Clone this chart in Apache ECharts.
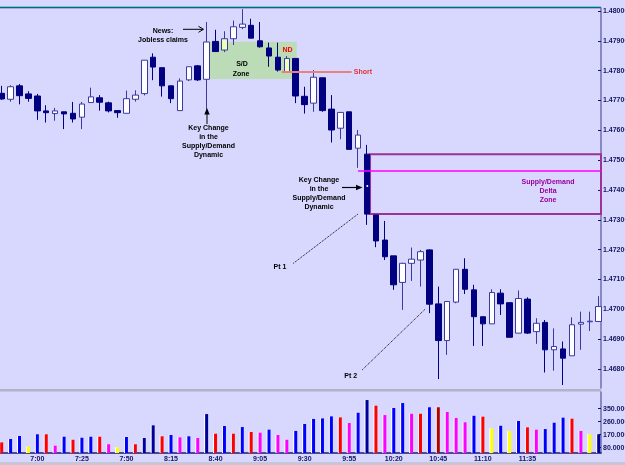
<!DOCTYPE html>
<html>
<head>
<meta charset="UTF-8">
<title>5 min chart - supply/demand</title>
<script src="https://cdn.jsdelivr.net/npm/echarts@6/dist/echarts.min.js"></script>
<style>
html,body{margin:0;padding:0;background:#d8d8ff;}
#main{width:625px;height:465px;}
</style>
</head>
<body>
<div id="main"></div>
<script>
// bar index (0 = 6:40) where a time label sits
var tickBars = [4, 9, 14, 19, 24, 29, 34, 39, 44, 49, 54, 59];
var tickLabels = ['7:00','7:25','7:50','8:15','8:40','9:05','9:30','9:55','10:20','10:45','11:10','11:35'];
var priceTicks = [1.468,1.469,1.470,1.471,1.472,1.473,1.474,1.475,1.476,1.477,1.478,1.479,1.480];
var volTicks = [80, 170, 260, 350];

var open = [1.47724,1.47704,1.47749,1.47722,1.47715,1.47665,1.47656,1.47662,1.47657,1.47644,
  1.47693,1.47709,1.47692,1.47666,1.47657,1.47704,1.47723,1.47845,1.47810,1.47749,
  1.47666,1.47769,1.47816,1.47771,1.47898,1.47869,1.47907,1.47945,1.47952,1.47900,
  1.47876,1.47845,1.47797,1.47841,1.47714,1.47691,1.47776,1.47671,1.47607,1.47662,
  1.47540,1.47520,1.47316,1.47232,1.47179,1.47090,1.47154,1.47165,1.47199,1.47018,
  1.46895,1.47024,1.47134,1.47065,1.46975,1.46951,1.47054,1.47022,1.46920,1.47034,
  1.46925,1.46956,1.46864,1.46867,1.46844,1.46950,1.46958,1.46959];
var close = [1.47705,1.47746,1.47716,1.47707,1.47665,1.47659,1.47665,1.47655,1.47638,1.47688,
  1.47712,1.47694,1.47665,1.47659,1.47706,1.47718,1.47835,1.47812,1.47749,1.47706,
  1.47765,1.47813,1.47769,1.47896,1.47864,1.47907,1.47947,1.47956,1.47909,1.47880,
  1.47849,1.47802,1.47841,1.47715,1.47686,1.47778,1.47666,1.47601,1.47660,1.47536,
  1.47584,1.47319,1.47229,1.47176,1.47082,1.47154,1.47168,1.47193,1.47017,1.46895,
  1.47026,1.47134,1.47067,1.46975,1.46951,1.47056,1.47018,1.46906,1.47036,1.46920,
  1.46953,1.46864,1.46875,1.46836,1.46948,1.46956,1.46960,1.47009];
var low = [1.47702,1.47696,1.47687,1.47696,1.47635,1.47626,1.47632,1.47604,1.47626,1.47604,
  1.47693,1.47666,1.47660,1.47642,1.47657,1.47696,1.47717,1.47768,1.47713,1.47691,
  1.47666,1.47765,1.47765,1.47668,1.47864,1.47862,1.47886,1.47939,1.47909,1.47877,
  1.47813,1.47797,1.47797,1.47691,1.47656,1.47662,1.47662,1.47559,1.47570,1.47536,
  1.47474,1.47283,1.47208,1.47165,1.47065,1.46998,1.47095,1.47076,1.46987,1.46766,
  1.46847,1.47020,1.47051,1.46877,1.46877,1.46951,1.46981,1.46906,1.46920,1.46917,
  1.46884,1.46788,1.46794,1.46746,1.46844,1.46864,1.46927,1.46959];
var high = [1.47749,1.47751,1.47755,1.47731,1.47722,1.47684,1.47675,1.47662,1.47695,1.47695,
  1.47743,1.47718,1.47696,1.47666,1.47733,1.47734,1.47835,1.47858,1.47810,1.47749,
  1.47774,1.47813,1.47819,1.47963,1.47937,1.47932,1.47968,1.48006,1.47974,1.47963,
  1.47894,1.47894,1.47849,1.47841,1.47746,1.47802,1.47776,1.47718,1.47660,1.47662,
  1.47601,1.47551,1.47316,1.47296,1.47179,1.47156,1.47207,1.47199,1.47201,1.47076,
  1.47028,1.47134,1.47171,1.47082,1.46975,1.47067,1.47067,1.47022,1.47063,1.47040,
  1.46970,1.46964,1.46936,1.46892,1.46973,1.46992,1.46992,1.47044];
var volume = [117,140,161,87,173,173,94,156,135,149,
  156,156,104,83,154,104,147,235,159,168,
  152,159,147,313,177,230,177,223,189,184,
  205,168,135,196,244,279,283,297,290,251,
  322,410,371,306,355,389,315,315,360,360,
  327,286,256,301,295,214,232,196,265,221,
  205,209,253,288,281,196,173,173];
var volColor = ['R','B','B','Y','B','R','M','B','R','B',
  'B','R','M','Y','B','R','N','N','R','B',
  'M','B','M','N','R','B','R','B','R','M',
  'B','M','M','B','B','B','B','B','R','M',
  'B','N','R','M','B','B','M','R','B','D',
  'M','M','M','B','R','Y','B','Y','B','R',
  'M','B','B','B','R','M','Y','N'];
var paleBars = [25, 32];   // the two pale candles inside the S/D zone

var palette = {B:'#0000ff', R:'#ff0000', M:'#ff00ff', Y:'#ffff00', N:'#000099', D:'#b00000'};
var xMin = -0.19, xMax = 67.26;
var font = '"Liberation Sans", Arial, sans-serif';

var candleData = open.map(function(o, i){
  var item = {value: [i, o, close[i], low[i], high[i]]};
  if (paleBars.indexOf(i) >= 0) item.itemStyle = {color: '#eeffbb', borderColor: '#3a3aa0'};
  return item;
});
var volData = volume.map(function(v, i){
  return {value: [i, v], itemStyle: {color: palette[volColor[i]]}};
});

function txt(x, y, s, color, size){
  return {type:'text', x:x, y:y, z:100, silent:true,
    style:{text:s, fill:color || '#000', font:'bold ' + (size || 7) + 'px ' + font,
      textAlign:'center', textVerticalAlign:'middle'}};
}

var myChart = echarts.init(document.getElementById('main'));
var option = {
  animation: false,
  backgroundColor: '#d8d8ff',
  grid: [
    {left:0, top:8, width:601, height:380, outerBoundsMode:'none', containLabel:false},
    {left:0, top:392, width:601, height:61, outerBoundsMode:'none', containLabel:false}
  ],
  xAxis: [
    {type:'value', gridIndex:0, min:xMin, max:xMax, axisLine:{show:false}, axisTick:{show:false},
      axisLabel:{show:false}, splitLine:{show:false}},
    {type:'value', gridIndex:1, min:xMin, max:xMax,
      axisLine:{show:true, onZero:false, lineStyle:{color:'#1c1c70', width:1.5}},
      axisTick:{show:false}, splitLine:{show:false},
      axisLabel:{show:true, customValues:tickBars, margin:3, color:'#14145e',
        fontSize:7, fontWeight:'bold', fontFamily:font,
        formatter:function(v){ return tickLabels[tickBars.indexOf(Math.round(v))] || ''; }}}
  ],
  yAxis: [
    {type:'value', gridIndex:0, position:'right', min:1.46736, max:1.48010, scale:true,
      axisLine:{show:true, onZero:false, lineStyle:{color:'#6e6eb4', width:1.5}},
      axisTick:{show:true, inside:true, length:3, customValues:priceTicks, lineStyle:{color:'#14145e'}},
      splitLine:{show:false},
      axisLabel:{show:true, customValues:priceTicks, margin:2, color:'#14145e', fontSize:7,
        fontWeight:'bold', fontFamily:font, formatter:function(v){ return v.toFixed(5); }}},
    {type:'value', gridIndex:1, position:'right', min:43.3, max:465.6,
      axisLine:{show:true, onZero:false, lineStyle:{color:'#6e6eb4', width:1.5}},
      axisTick:{show:true, inside:true, length:3, customValues:volTicks, lineStyle:{color:'#14145e'}},
      splitLine:{show:false},
      axisLabel:{show:true, customValues:volTicks, margin:2, color:'#14145e', fontSize:7,
        fontWeight:'bold', fontFamily:font, formatter:function(v){ return v.toFixed(3); }}}
  ],
  series: [
    {
      // S/D zone behind the candles
      type:'line', xAxisIndex:0, yAxisIndex:0, data:[], z:1, silent:true,
      markArea:{silent:true, label:{show:false},
        itemStyle:{color:'#bcdcb8'},
        data:[[{coord:[23.38, 1.47897]}, {coord:[33.11, 1.47772]}]]}
    },
    {
      type:'candlestick', xAxisIndex:0, yAxisIndex:0, z:3,
      dimensions:['idx','open','close','lowest','highest'],
      encode:{x:'idx', y:['open','close','lowest','highest']},
      barWidth:6,
      itemStyle:{color:'#ffffff', color0:'#000080', borderColor:'#3a3aa0', borderColor0:'#000080', borderWidth:1},
      data: candleData,
      markArea:{silent:true, label:{show:false},
        itemStyle:{color:'rgba(0,0,0,0)', borderColor:'#993399', borderWidth:2},
        data:[[{coord:[41.34, 1.47520]}, {coord:[xMax, 1.47319]}]]},
      markLine:{silent:true, symbol:['none','none'], label:{show:false},
        data:[
          [{coord:[31.43, 1.47796], lineStyle:{color:'#e88080', width:2, type:'solid'}}, {coord:[39.28, 1.47796]}],
          [{coord:[40.0, 1.47466], lineStyle:{color:'#ff00ff', width:1.5, type:'solid'}}, {coord:[xMax, 1.47466]}],
          [{coord:[32.73, 1.47154], lineStyle:{color:'#000', width:1, type:'dotted'}}, {coord:[40.02, 1.47320]}],
          [{coord:[40.47, 1.46797], lineStyle:{color:'#000', width:1, type:'dotted'}}, {coord:[47.51, 1.47000]}]
        ]}
    },
    {
      type:'bar', xAxisIndex:1, yAxisIndex:1, barWidth:3, z:3,
      itemStyle:{shadowColor:'#ffffff', shadowOffsetX:-1, shadowBlur:0},
      data: volData
    }
  ],
  graphic: [
    {type:'rect', shape:{x:0, y:6, width:601, height:1.2}, style:{fill:'#44dede'}, silent:true},
    {type:'rect', shape:{x:0, y:7.2, width:601, height:1}, style:{fill:'#1c1c55'}, silent:true},
    {type:'rect', shape:{x:0, y:389, width:601, height:2.5}, style:{fill:'#b2b2c8'}, silent:true},
    {type:'rect', shape:{x:0, y:462, width:625, height:3}, style:{fill:'#c6c6d8'}, silent:true},
    txt(163, 31, 'News:'), txt(163, 40, 'Jobless claims'),
    {type:'line', shape:{x1:183, y1:29.3, x2:203, y2:29.3}, style:{stroke:'#000', lineWidth:1}, z:100},
    {type:'polyline', shape:{points:[[198.5,26.3],[203.5,29.3],[198.5,32.3]]}, style:{stroke:'#000', lineWidth:1, fill:null}, z:100},
    {type:'line', shape:{x1:207, y1:124, x2:207, y2:110}, style:{stroke:'#000', lineWidth:1}, z:100},
    {type:'polygon', shape:{points:[[204.3,114.5],[207,108],[209.7,114.5]]}, style:{fill:'#000'}, z:100},
    txt(208.5, 128, 'Key Change'), txt(208.5, 137, 'in the'), txt(208.5, 146, 'Supply/Demand'), txt(208.5, 155, 'Dynamic'),
    txt(242, 64.5, 'S/D'), txt(241, 74, 'Zone'),
    txt(287.5, 50.5, 'ND', '#ff0000'),
    txt(363, 72.3, 'Short', '#e83030'),
    txt(319, 180, 'Key Change'), txt(319, 189, 'in the'), txt(319, 197.7, 'Supply/Demand'), txt(319, 206.7, 'Dynamic'),
    {type:'line', shape:{x1:342, y1:187.5, x2:357, y2:187.5}, style:{stroke:'#000', lineWidth:1.2}, z:100},
    {type:'polygon', shape:{points:[[356,184.8],[362.5,187.5],[356,190.2]]}, style:{fill:'#000'}, z:100},
    {type:'circle', shape:{cx:367.3, cy:186, r:1}, style:{fill:'#fff'}, z:100},
    txt(280, 266.7, 'Pt 1'), txt(350.7, 375.7, 'Pt 2'),
    txt(548, 182, 'Supply/Demand', '#990099'), txt(548, 191, 'Delta', '#990099'), txt(548, 200, 'Zone', '#990099')
  ]
};
myChart.setOption(option);
</script>
</body>
</html>
